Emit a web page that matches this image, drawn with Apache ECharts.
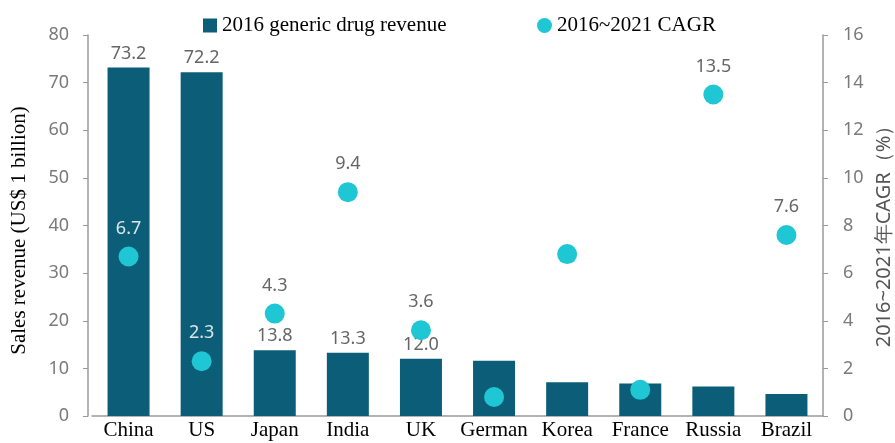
<!DOCTYPE html>
<html>
<head>
<meta charset="utf-8">
<script src="https://cdn.jsdelivr.net/npm/echarts@6/dist/echarts.min.js"></script>
<style>
  html, body { margin: 0; padding: 0; background: #fff; }
  #chart { width: 895px; height: 443px; }
</style>
</head>
<body>
<div id="chart"></div>
<script>
// data
const categories = ["China", "US", "Japan", "India", "UK", "German", "Korea", "France", "Russia", "Brazil"];
const revenue = [73.2, 72.2, 13.8, 13.3, 12.0, 11.6, 7.1, 6.8, 6.2, 4.6];
const cagr = [6.7, 2.3, 4.3, 9.4, 3.6, 0.8, 6.8, 1.1, 13.5, 7.6];
const revenueLabelled = ["China", "US", "Japan", "India", "UK"];
const cagrLabelled = ["China", "US", "Japan", "India", "UK", "Russia", "Brazil"];
const cagrLightLabel = ["China", "US"]; // labels sitting on the dark bars

const leftTicks = [0, 10, 20, 30, 40, 50, 60, 70, 80];
const rightTicks = [0, 2, 4, 6, 8, 10, 12, 14, 16];

const barColor = "#0c5e78";
const dotColor = "#1fc6d3";
const tickFont = "Noto Sans";
const serif = "Liberation Serif";

const chart = echarts.init(document.getElementById("chart"));

const barData = revenue.map((v, i) => ({
    value: v,
    label: { show: revenueLabelled.includes(categories[i]) },
}));

const dotData = cagr.map((v, i) => ({
    value: v,
    label: {
        show: cagrLabelled.includes(categories[i]),
        color: cagrLightLabel.includes(categories[i]) ? "#dbe6ea" : "#666",
    },
}));

const axisLine = { show: true, lineStyle: { color: "#9a9a9a", width: 1.5 } };
const fixed1 = (p) => p.value.toFixed(1);

chart.setOption({
    animation: false,
    legend: [
        {
            data: [{ name: "2016 generic drug revenue", icon: "rect" }],
            left: 198,
            top: 10,
            itemWidth: 14,
            itemHeight: 14,
            textStyle: { fontFamily: serif, fontSize: 21, color: "#000" },
        },
        {
            data: [{ name: "2016~2021 CAGR", icon: "circle" }],
            left: 532,
            top: 10,
            itemWidth: 15,
            itemHeight: 15,
            textStyle: { fontFamily: serif, fontSize: 21, color: "#000" },
        },
    ],
    grid: { left: 92, right: 72, top: 35, bottom: 27, outerBoundsMode: "none", containLabel: false },
    xAxis: {
        type: "category",
        data: categories,
        axisLine: { show: true, onZero: false, lineStyle: { color: "#9a9a9a", width: 1.5 } },
        axisTick: { show: false },
        axisLabel: { fontFamily: serif, fontSize: 21, color: "#000", margin: 4, interval: 0 },
    },
    yAxis: [
        {
            type: "value",
            min: leftTicks[0],
            max: leftTicks[leftTicks.length - 1],
            interval: leftTicks[1] - leftTicks[0],
            offset: 4,
            name: "Sales revenue (US$ 1 billion)",
            nameLocation: "middle",
            nameRotate: 90,
            nameGap: 58,
            nameTextStyle: { fontFamily: serif, fontSize: 21, color: "#000", padding: [0, 10, 0, 0] },
            axisLine: axisLine,
            axisTick: { show: true, length: 5, lineStyle: { color: "#9a9a9a" } },
            axisLabel: { fontFamily: tickFont, fontSize: 18, color: "#7a7a7a", margin: 19 },
            splitLine: { show: false },
        },
        {
            type: "value",
            min: rightTicks[0],
            max: rightTicks[rightTicks.length - 1],
            interval: rightTicks[1] - rightTicks[0],
            position: "right",
            name: "2016~2021年CAGR（%）",
            nameLocation: "middle",
            nameRotate: 90,
            nameGap: 45,
            nameTextStyle: { fontFamily: tickFont, fontSize: 20, color: "#555", padding: [0, 12, 0, 0] },
            axisLine: axisLine,
            axisTick: { show: true, length: 5, lineStyle: { color: "#9a9a9a" } },
            axisLabel: { fontFamily: tickFont, fontSize: 18, color: "#7a7a7a", margin: 20 },
            splitLine: { show: false },
        },
    ],
    series: [
        {
            name: "2016 generic drug revenue",
            type: "bar",
            yAxisIndex: 0,
            data: barData,
            barWidth: 42,
            itemStyle: { color: barColor },
            label: {
                position: "top",
                distance: 5,
                fontFamily: tickFont,
                fontSize: 18,
                color: "#666",
                formatter: fixed1,
            },
        },
        {
            name: "2016~2021 CAGR",
            type: "scatter",
            yAxisIndex: 1,
            data: dotData,
            symbolSize: 20,
            itemStyle: { color: dotColor, opacity: 1 },
            label: {
                position: "top",
                distance: 9,
                fontFamily: tickFont,
                fontSize: 18,
                formatter: fixed1,
            },
            z: 3,
        },
    ],
});
</script>
</body>
</html>
